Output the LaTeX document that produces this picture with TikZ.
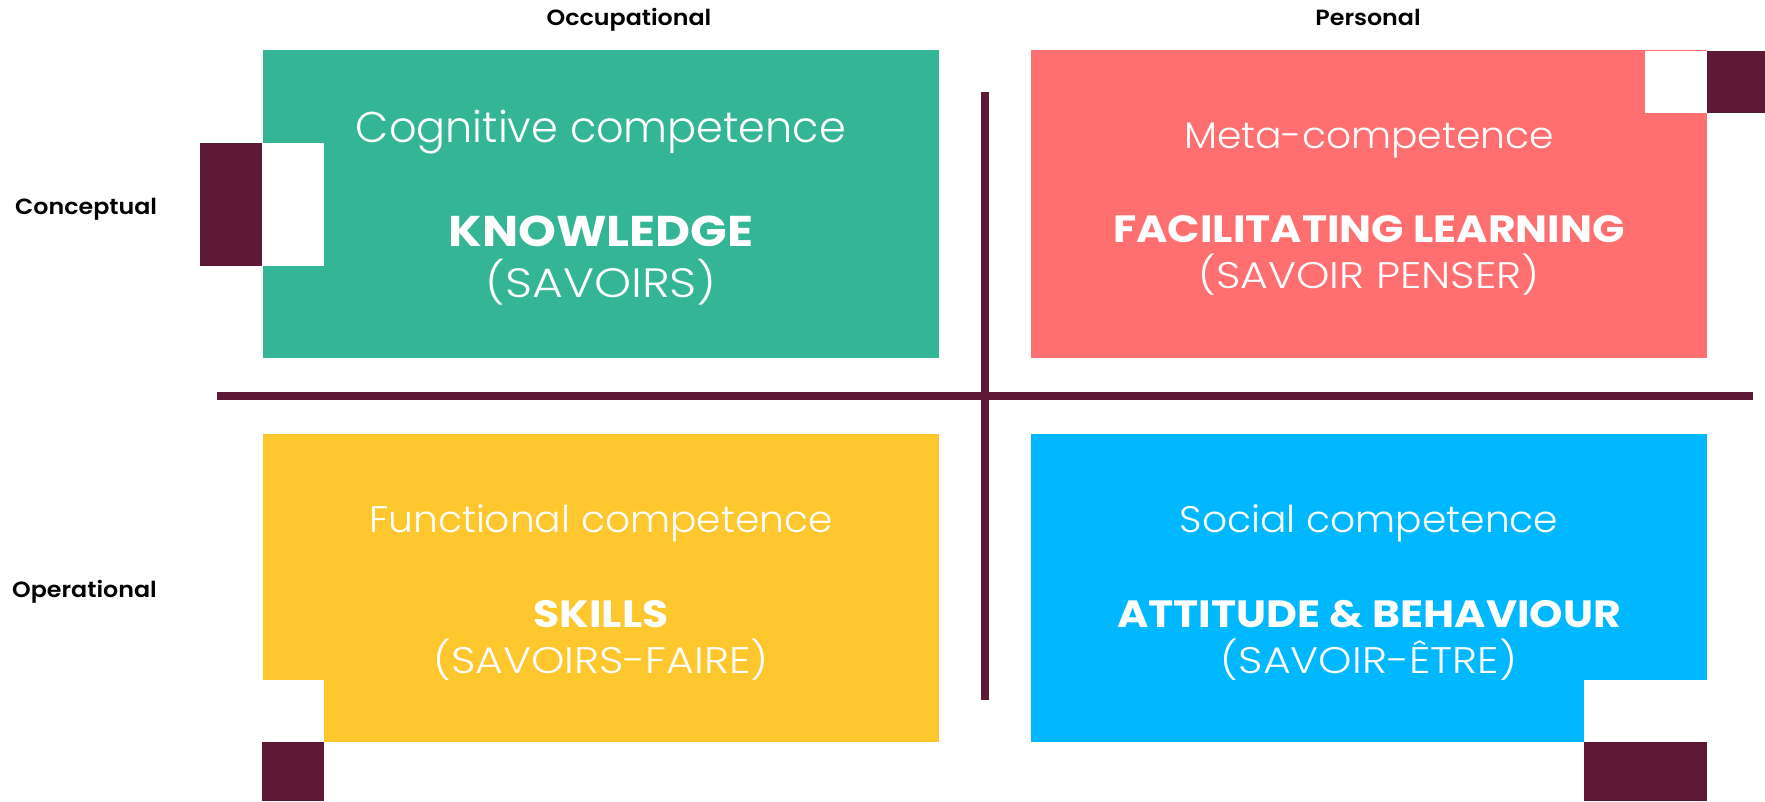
\documentclass[tikz,border=0pt]{standalone}
\usepackage{fontspec}
\newfontfamily\lightf{Poppins Light}
\newfontfamily\lightm{Poppins Light}[FakeStretch=1.06]
\newfontfamily\lightw{Poppins Light}[FakeStretch=1.15]
\newfontfamily\boldf{Poppins Bold}[FakeStretch=1.12]
\newfontfamily\semif{Poppins SemiBold}[FakeStretch=1.08]
\definecolor{qgreen}{HTML}{34B696}
\definecolor{qcoral}{HTML}{FF6F6F}
\definecolor{qyellow}{HTML}{FEC72E}
\definecolor{qblue}{HTML}{00B8FF}
\definecolor{qdark}{HTML}{5E1936}
\begin{document}
\begin{tikzpicture}[x=1pt,y=-1pt,
  quad/.style={draw=none, inner sep=0pt, outer sep=0pt, anchor=north west, minimum width=676pt, minimum height=308pt},
  patch/.style={draw=none, inner sep=0pt, outer sep=0pt, anchor=north west},
  axis/.style={draw=qdark, line width=8pt},
  ttl/.style={anchor=base, text=white, inner sep=0pt, font=\lightm\fontsize{37}{44}\selectfont},
  big/.style={anchor=base, text=white, inner sep=0pt, font=\boldf\fontsize{38}{44}\selectfont},
  sub/.style={anchor=base, text=white, inner sep=0pt, font=\lightw\fontsize{37}{44}\selectfont},
  lbl/.style={anchor=base, text=black, inner sep=0pt, font=\semif\fontsize{22}{26}\selectfont}]
\useasboundingbox (0,0) rectangle (1765,801);
% quadrants
\node[quad, fill=qgreen] (cog) at (263,50) {};
\node[quad, fill=qcoral] (meta) at (1031,50) {};
\node[quad, fill=qyellow] (func) at (263,434) {};
\node[quad, fill=qblue] (soc) at (1031,434) {};
% notches and dark squares
\node[patch, fill=white, minimum width=61pt, minimum height=123pt] (n1) at (263,143) {};
\node[patch, fill=qdark, minimum width=62pt, minimum height=123pt] (d1) at (200,143) {};
\node[patch, fill=white, minimum width=62pt, minimum height=62pt] (n2) at (1645,51) {};
\node[patch, fill=qdark, minimum width=58pt, minimum height=62pt] (d2) at (1707,51) {};
\node[patch, fill=white, minimum width=61pt, minimum height=62pt] (n3) at (263,680) {};
\node[patch, fill=qdark, minimum width=62pt, minimum height=59pt] (d3) at (262,742) {};
\node[patch, fill=white, minimum width=123pt, minimum height=62pt] (n4) at (1584,680) {};
\node[patch, fill=qdark, minimum width=123pt, minimum height=59pt] (d4) at (1584,742) {};
% axes
\coordinate (hl) at (217,396);
\coordinate (hr) at (1753,396);
\coordinate (vt) at (985,92);
\coordinate (vb) at (985,700);
\draw[axis] (hl) -- (hr);
\draw[axis] (vt) -- (vb);
% labels
\node[lbl] (occ) at (629,25) {Occupational};
\node[lbl] (pers) at (1368,25) {Personal};
\node[lbl, anchor=base west] (conc) at (15,214) {Conceptual};
\node[lbl, anchor=base west] (oper) at (12,597) {Operational};
% texts
\node[ttl, font=\lightf\fontsize{43}{50}\selectfont] (t1) at (601,142) {Cognitive competence};
\node[big, font=\boldf\fontsize{43}{50}\selectfont] (b1) at (601,246) {KNOWLEDGE};
\node[sub, font=\lightw\fontsize{41}{50}\selectfont] (s1) at (601,297) {(SAVOIRS)};
\node[ttl] (t2) at (1369,148) {Meta-competence};
\node[big] (b2) at (1369,242) {FACILITATING LEARNING};
\node[sub] (s2) at (1369,288) {(SAVOIR PENSER)};
\node[ttl] (t3) at (601,532) {Functional competence};
\node[big] (b3) at (601,627) {SKILLS};
\node[sub] (s3) at (601,673) {(SAVOIRS-FAIRE)};
\node[ttl] (t4) at (1369,532) {Social competence};
\node[big] (b4) at (1369,627) {ATTITUDE \& BEHAVIOUR};
\node[sub] (s4) at (1369,673) {(SAVOIR-ÊTRE)};
\end{tikzpicture}
\end{document}
